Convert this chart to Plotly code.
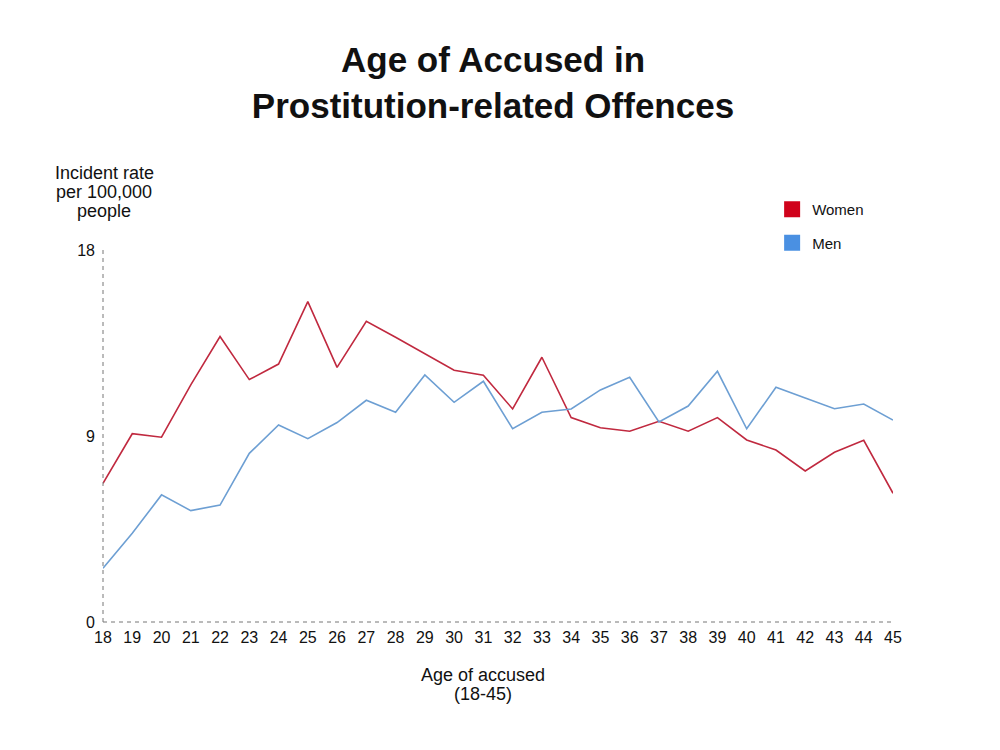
import plotly.graph_objects as go

ages = list(range(18, 46))
women = [6.71, 9.11, 8.94, 11.47, 13.81, 11.73, 12.48, 15.50, 12.32, 14.55, 13.78, 13.00, 12.18, 11.94,
         10.31, 12.81, 9.89, 9.40, 9.23, 9.71, 9.23, 9.89, 8.81, 8.32, 7.31, 8.21, 8.79, 6.23]
men = [2.60, 4.29, 6.15, 5.39, 5.66, 8.16, 9.53, 8.87, 9.65, 10.73, 10.15, 11.95, 10.63, 11.65,
       9.35, 10.15, 10.31, 11.23, 11.84, 9.68, 10.45, 12.13, 9.35, 11.36, 10.84, 10.32, 10.55, 9.77]
y_ticks = [0, 9, 18]
y_title_lines = ["Incident rate", "per 100,000", "people"]
x_title_lines = ["Age of accused", "(18-45)"]

FONT = "Liberation Sans, Arial, Helvetica, sans-serif"

fig = go.Figure()
fig.add_trace(go.Scatter(x=ages, y=women, mode="lines", line=dict(color="#c0293f", width=1.6),
                         showlegend=False, name="Women"))
fig.add_trace(go.Scatter(x=ages, y=men, mode="lines", line=dict(color="#6d9fd3", width=1.6),
                         showlegend=False, name="Men"))
# legend swatches
fig.add_trace(go.Scatter(x=[None], y=[None], mode="markers", name="Women", legendgroup="w",
                         marker=dict(symbol="square", size=20, color="#d0021b")))
fig.add_trace(go.Scatter(x=[None], y=[None], mode="markers", name="Men", legendgroup="m",
                         marker=dict(symbol="square", size=20, color="#4a90e2")))

annotations = []
for i, t in enumerate(y_title_lines):
    annotations.append(dict(text=t, xref="paper", yref="paper", x=0.0013, y=1.207 - i * 0.051,
                            xanchor="center", yanchor="middle", showarrow=False,
                            font=dict(size=18, color="#111")))
for i, t in enumerate(x_title_lines):
    annotations.append(dict(text=t, xref="paper", yref="paper", x=0.481, y=-0.1425 - i * 0.051,
                            xanchor="center", yanchor="middle", showarrow=False,
                            font=dict(size=18, color="#111")))

fig.update_layout(
    width=1000, height=750,
    margin=dict(l=95, r=115, t=242, b=136),
    paper_bgcolor="white", plot_bgcolor="white",
    font=dict(family=FONT, size=16, color="#111"),
    title=dict(text="Age of Accused in<br>Prostitution-related Offences",
               font=dict(family=FONT, size=35, color="#111", weight="bold"),
               x=0.485, xanchor="center", xref="container",
               y=1 - 64 / 750, yanchor="middle", yref="container"),
    xaxis=dict(range=[18, 45], tickvals=ages, ticktext=[str(a) for a in ages], showgrid=False,
               zeroline=False, showline=False, ticks="", ticklabelstandoff=4,
               tickfont=dict(size=16, color="#111")),
    yaxis=dict(range=[0, 18], tickvals=y_ticks, showgrid=False, zeroline=False, showline=False,
               ticks="", ticklabelstandoff=7, tickfont=dict(size=16, color="#111")),
    legend=dict(x=0.847, xanchor="left", y=1.153, yanchor="top", tracegroupgap=11,
                traceorder="grouped", font=dict(size=15, color="#111"), bgcolor="rgba(0,0,0,0)"),
    shapes=[
        dict(type="line", xref="paper", yref="paper", x0=0, x1=0, y0=0, y1=1,
             line=dict(color="#777", width=1, dash="4px,4px")),
        dict(type="line", xref="paper", yref="paper", x0=0, x1=1, y0=0, y1=0,
             line=dict(color="#777", width=1, dash="4px,4px")),
    ],
    annotations=annotations,
)

fig.write_html("out.html")
